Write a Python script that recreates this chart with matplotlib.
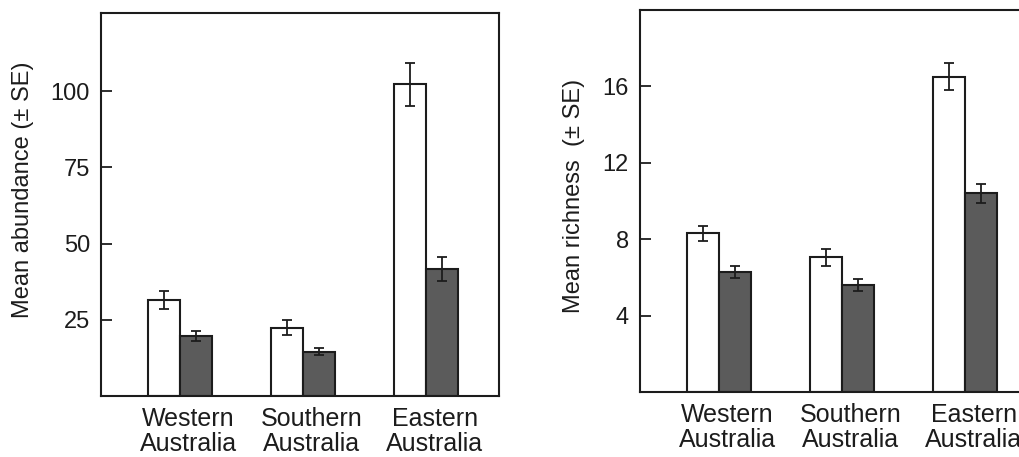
import matplotlib
matplotlib.use("Agg")
import matplotlib.pyplot as plt
import numpy as np

plt.rcParams["font.family"] = ["Liberation Sans", "DejaVu Sans"]

regions = ["Western\nAustralia", "Southern\nAustralia", "Eastern\nAustralia"]

# abundance (open bars / shaded bars)
abund_open = [31.6, 22.4, 102.3]
abund_open_se = [3.0, 2.4, 7.0]
abund_dark = [19.8, 14.5, 41.8]
abund_dark_se = [1.6, 1.1, 3.9]

# richness
rich_open = [8.3, 7.05, 16.5]
rich_open_se = [0.4, 0.45, 0.7]
rich_dark = [6.27, 5.6, 10.4]
rich_dark_se = [0.32, 0.3, 0.5]

abund_ticks = [25, 50, 75, 100]
rich_ticks = [4, 8, 12, 16]

TXT = "#1c1c1c"
DARK = "#5b5b5b"


def draw_panel(ax, open_vals, open_se, dark_vals, dark_se, ylim, yticks, ylabel):
    x = np.arange(len(regions))
    w = 0.26
    ax.bar(x - w / 2, open_vals, w, color="white", edgecolor=TXT, linewidth=1.5, zorder=2)
    ax.bar(x + w / 2, dark_vals, w, color=DARK, edgecolor=TXT, linewidth=1.5, zorder=2)
    ax.errorbar(x - w / 2, open_vals, yerr=open_se, fmt="none", ecolor=TXT,
                elinewidth=1.3, capsize=3.6, capthick=1.3, zorder=3)
    ax.errorbar(x + w / 2, dark_vals, yerr=dark_se, fmt="none", ecolor=TXT,
                elinewidth=1.3, capsize=3.6, capthick=1.3, zorder=3)
    ax.set_xlim(-0.64, 2.59)
    ax.set_ylim(*ylim)
    ax.set_yticks(yticks)
    ax.set_xticks(x + 0.07)
    ax.set_xticklabels(regions, fontsize=18, color=TXT, linespacing=1.05)
    ax.tick_params(axis="x", length=0, pad=8)
    ax.tick_params(axis="y", direction="in", length=8, width=1.3, pad=8,
                   labelsize=17, labelcolor=TXT, color=TXT)
    for sp in ax.spines.values():
        sp.set_linewidth(1.5)
        sp.set_color(TXT)
    ax.set_ylabel(ylabel, fontsize=17, color=TXT)


fig = plt.figure(figsize=(10.19, 4.57), dpi=100)
ax1 = fig.add_axes([0.0991, 0.1335, 0.3906, 0.838])
ax2 = fig.add_axes([0.628, 0.1422, 0.3906, 0.836])

draw_panel(ax1, abund_open, abund_open_se, abund_dark, abund_dark_se,
           (0, 125.7), abund_ticks, "Mean abundance (± SE)")
draw_panel(ax2, rich_open, rich_open_se, rich_dark, rich_dark_se,
           (0, 20.0), rich_ticks, "Mean richness  (± SE)")

ax1.yaxis.set_label_coords(-0.196, 0.538)
ax2.yaxis.set_label_coords(-0.166, 0.512)
for ax in (ax1, ax2):
    ax.yaxis.label.set_verticalalignment("center")

fig.savefig("out.png", dpi=100)
